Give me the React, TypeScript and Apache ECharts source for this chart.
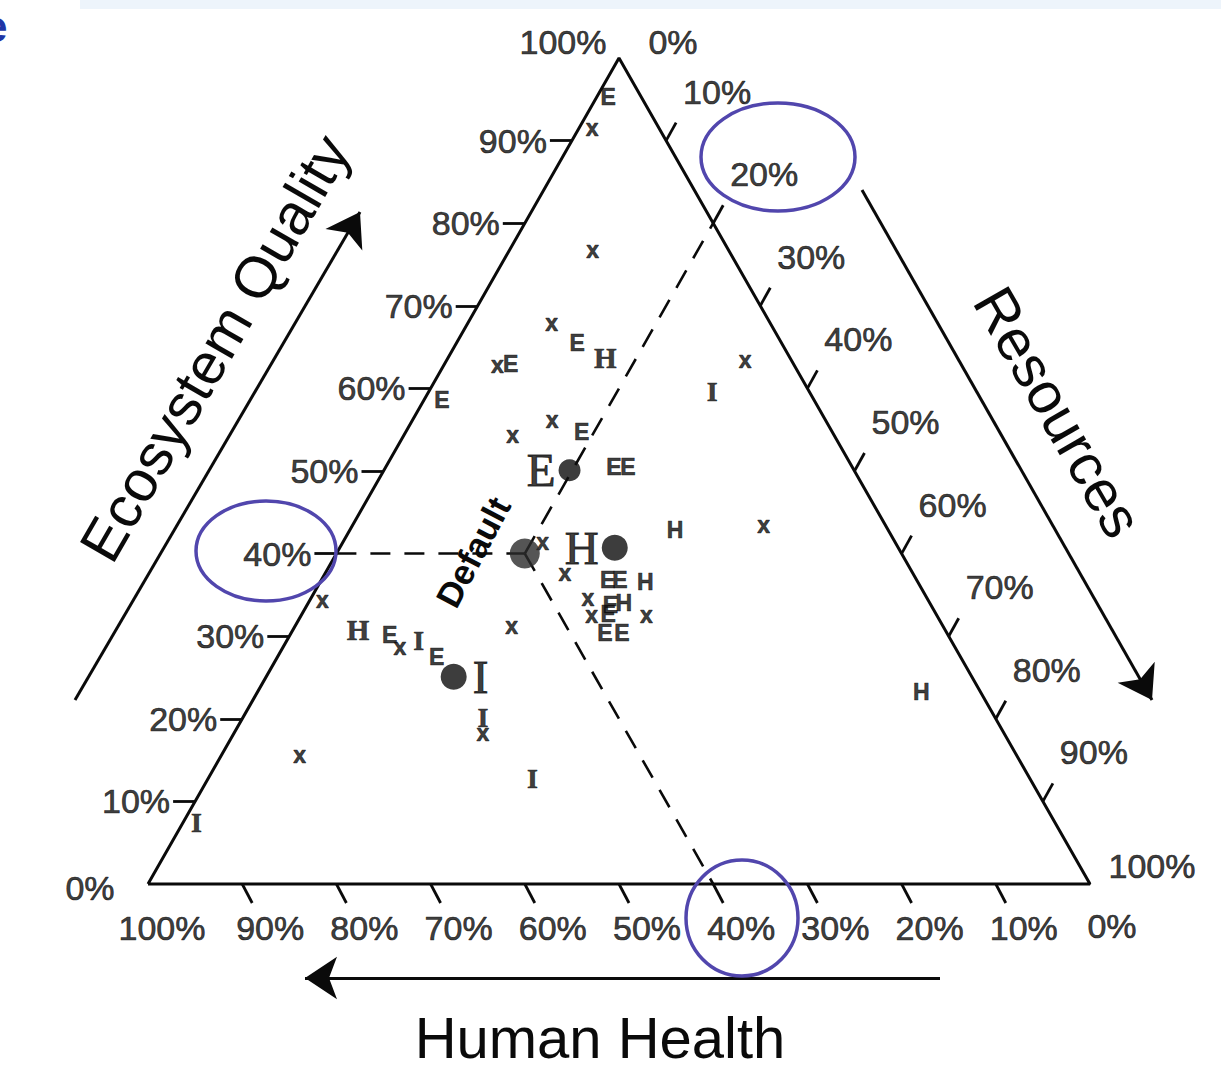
import React, { useEffect, useRef } from "react";
import * as echarts from "echarts";

// ---------- canvas / triangle frame ----------
const W = 1221;
const H = 1074;
const X0 = 148; // pixel x of the bottom-left vertex
const Y0 = 884; // pixel y of the bottom edge
const PX = 942; // pixel width of the triangle base
const PY = 826; // pixel height of the triangle

// ---------- data (ternary values, %: [Ecosystem Quality, Resources]; Human Health = 100 - EQ - R) ----------
const tickValues = [10, 20, 30, 40, 50, 60, 70, 80, 90];

const xMarkers: number[][] = [
  [91.5, 1.4], [76.8, 8.8], [67.9, 8.9], [62.8, 5.7], [56.2, 14.8], [54.4, 11.5],
  [41.4, 21.2], [63.4, 31.7], [43.5, 43.6], [37.7, 25.4], [34.4, 1.3], [31.2, 23.0],
  [28.7, 12.4], [18.3, 26.4], [15.6, 8.3], [34.6, 29.4], [32.6, 30.8], [32.6, 36.6],
];
const eMarkers: number[][] = [
  [95.3, 1.2], [63.0, 7.0], [65.5, 12.8], [58.6, 1.9], [54.7, 18.7], [50.5, 24.2],
  [50.5, 25.7], [36.8, 30.4], [36.8, 31.7], [33.8, 32.2], [32.7, 32.5], [30.4, 33.3],
  [30.4, 35.1], [30.1, 10.6], [27.5, 16.9],
];
const hMarkersSans: number[][] = [[42.9, 34.5], [36.6, 34.5], [34.0, 33.5], [23.2, 70.5]];
const hMarkersSerif: number[][] = [[63.7, 16.7], [30.8, 6.9]];
const iMarkers: number[][] = [[59.6, 30.1], [29.5, 14.0], [20.1, 25.5], [12.8, 34.4], [7.5, 1.4]];

const medianNames = ["E", "H", "I"];
const medianEQ = [50.1, 40.7, 25.1];
const medianR = [19.7, 29.2, 19.9];
const medianSize = [22, 26, 26];
const defaultPoint = [40, 20]; // EQ 40%, R 20%, HH 40%

// ---------- helpers ----------
const toXY = (eq: number, r: number) => [eq / 200 + r / 100, eq / 100];
const leftPt = (v: number) => toXY(v, 0);
const rightPt = (v: number) => toXY(100 - v, v);
const bottomPt = (v: number) => toXY(0, 100 - v); // v = Human Health %
const off = (p: number[], dxPx: number, dyPx: number) => [p[0] + dxPx / PX, p[1] - dyPx / PY];

const INK = "#0a0a0a";
const SANS = "'Liberation Sans', Arial, Helvetica, sans-serif";
const SERIF = "'Liberation Serif', 'Times New Roman', serif";
const BLUE = "#5146ad";

function buildOption() {
  const tickFont = {
    fontFamily: SANS,
    fontSize: 34,
    color: INK,
    textBorderColor: INK,
    textBorderWidth: 0.7,
  };

  const tickSegs: any[] = [];
  tickValues.forEach((v) => {
    const l = leftPt(v);
    tickSegs.push({ coords: [l, off(l, -22, 0)] });
    const r = rightPt(v);
    tickSegs.push({ coords: [r, off(r, 10, -18)] });
    const b = bottomPt(v);
    tickSegs.push({ coords: [b, off(b, 10, 19)] });
  });

  const dp = toXY(defaultPoint[0], defaultPoint[1]);
  const dashed = [
    { coords: [leftPt(defaultPoint[0]), dp] },
    { coords: [dp, bottomPt(100 - defaultPoint[0] - defaultPoint[1])] },
    { coords: [dp, rightPt(defaultPoint[1])] },
  ];

  const arrows = [
    { coords: [[(75 - X0) / PX, (Y0 - 700) / PY], [(360 - X0) / PX, (Y0 - 212) / PY]] },
    { coords: [[(862 - X0) / PX, (Y0 - 190) / PY], [(1152 - X0) / PX, (Y0 - 700) / PY]] },
    { coords: [[(940 - X0) / PX, (Y0 - 978) / PY], [(305 - X0) / PX, (Y0 - 978) / PY]] },
  ];

  const markerSeries = (pts: number[][], text: string, family: string, size: number) => ({
    type: "scatter",
    symbolSize: 0,
    silent: true,
    z: 5,
    data: pts.map((p) => toXY(p[0], p[1])),
    label: {
      show: true,
      position: "inside",
      formatter: () => text,
      fontFamily: family,
      fontWeight: "bold",
      fontSize: size,
      color: INK,
      textBorderColor: INK,
      textBorderWidth: 0.6,
    },
  });

  const corners = [
    { value: toXY(100, 0), label: { formatter: "100%", offset: [-56, -16] } },
    { value: toXY(100, 0), label: { formatter: "0%", offset: [54, -16] } },
    { value: toXY(0, 0), label: { formatter: "0%", offset: [-58, 4] } },
    { value: toXY(0, 0), label: { formatter: "100%", offset: [14, 44] } },
    { value: toXY(0, 100), label: { formatter: "100%", offset: [62, -18] } },
    { value: toXY(0, 100), label: { formatter: "0%", offset: [22, 42] } },
  ];

  return {
    animation: false,
    backgroundColor: "#ffffff",
    grid: { left: 0, right: 0, top: 0, bottom: 0, containLabel: false },
    xAxis: { type: "value", min: -X0 / PX, max: (W - X0) / PX, show: false },
    yAxis: { type: "value", min: -(H - Y0) / PY, max: Y0 / PY, show: false },
    graphic: [
      { type: "rect", z: 0, shape: { x: 80, y: 0, width: W - 80, height: 9 }, style: { fill: "#edf4fb" } },
      {
        type: "text", z: 50, x: -17, y: 26,
        style: { text: "e", font: `bold 44px ${SANS}`, fill: "#2036a6", align: "left", verticalAlign: "middle" },
      },
      {
        type: "text", z: 50, x: 215, y: 348, rotation: (60 * Math.PI) / 180,
        style: { text: "Ecosystem Quality", font: `58px ${SANS}`, fill: INK, align: "center", verticalAlign: "middle" },
      },
      {
        type: "text", z: 50, x: 1058, y: 412, rotation: (-60 * Math.PI) / 180,
        style: { text: "Resources", font: `58px ${SANS}`, fill: INK, align: "center", verticalAlign: "middle" },
      },
      {
        type: "text", z: 50, x: 600, y: 1037,
        style: { text: "Human Health", font: `58px ${SANS}`, fill: INK, align: "center", verticalAlign: "middle" },
      },
      {
        type: "text", z: 50, x: 473, y: 552, rotation: (62 * Math.PI) / 180,
        style: { text: "Default", font: `bold 35px ${SANS}`, fill: INK, align: "center", verticalAlign: "middle" },
      },
      { type: "ellipse", z: 100, shape: { cx: 266, cy: 551, rx: 70, ry: 50 }, style: { fill: "none", stroke: BLUE, lineWidth: 3.5 } },
      { type: "ellipse", z: 100, shape: { cx: 778, cy: 157, rx: 77, ry: 54 }, style: { fill: "none", stroke: BLUE, lineWidth: 3.5 } },
      { type: "ellipse", z: 100, shape: { cx: 742, cy: 918, rx: 56, ry: 58 }, style: { fill: "none", stroke: BLUE, lineWidth: 3.5 } },
    ],
    series: [
      {
        type: "line",
        silent: true,
        symbol: "none",
        data: [toXY(0, 0), toXY(0, 100), toXY(100, 0), toXY(0, 0)],
        lineStyle: { color: INK, width: 3 },
        z: 3,
      },
      {
        type: "lines",
        coordinateSystem: "cartesian2d",
        silent: true,
        data: tickSegs,
        lineStyle: { color: INK, width: 2.8, opacity: 1 },
        z: 3,
      },
      {
        type: "lines",
        coordinateSystem: "cartesian2d",
        silent: true,
        data: dashed,
        lineStyle: { color: INK, width: 2.6, opacity: 1, type: [20, 14] },
        z: 3,
      },
      {
        type: "lines",
        coordinateSystem: "cartesian2d",
        silent: true,
        symbol: ["none", "arrow"],
        symbolSize: 32,
        data: arrows,
        lineStyle: { color: INK, width: 3, opacity: 1 },
        itemStyle: { color: INK },
        z: 3,
      },
      {
        type: "scatter",
        symbolSize: 0,
        silent: true,
        data: tickValues.map((v) => [...leftPt(v), v]),
        label: { show: true, position: "left", distance: 25, formatter: (p: any) => p.value[2] + "%", ...tickFont },
      },
      {
        type: "scatter",
        symbolSize: 0,
        silent: true,
        data: tickValues.map((v) => [...rightPt(v), v]),
        label: { show: true, position: "inside", offset: [51, -49], formatter: (p: any) => p.value[2] + "%", ...tickFont },
      },
      {
        type: "scatter",
        symbolSize: 0,
        silent: true,
        data: tickValues.map((v) => [...bottomPt(v), v]),
        label: { show: true, position: "inside", offset: [28, 44], formatter: (p: any) => p.value[2] + "%", ...tickFont },
      },
      {
        type: "scatter",
        symbolSize: 0,
        silent: true,
        data: corners,
        label: { show: true, position: "inside", ...tickFont },
      },
      markerSeries(xMarkers, "x", SANS, 23),
      markerSeries(eMarkers, "E", SANS, 23),
      markerSeries(hMarkersSans, "H", SANS, 23),
      markerSeries(hMarkersSerif, "H", SERIF, 29),
      markerSeries(iMarkers, "I", SERIF, 28),
      {
        type: "scatter",
        silent: true,
        z: 6,
        symbol: "circle",
        data: medianNames.map((n, i) => ({
          value: toXY(medianEQ[i], medianR[i]),
          symbolSize: medianSize[i],
          label: {
            show: true,
            formatter: n,
            position: n === "I" ? "right" : "left",
            distance: n === "I" ? 6 : 3,
            fontFamily: SERIF,
            fontSize: 47,
            color: INK,
            textBorderColor: INK,
            textBorderWidth: 1,
          },
        })),
        itemStyle: { color: "#0d0d0d" },
      },
      {
        type: "scatter",
        silent: true,
        z: 6,
        symbol: "circle",
        symbolSize: 30,
        data: [dp],
        itemStyle: { color: "#2b2b2b" },
      },
    ],
  };
}

export default function App() {
  const ref = useRef<HTMLDivElement>(null);
  useEffect(() => {
    if (!ref.current) return;
    const chart = echarts.init(ref.current, null, { renderer: "svg" });
    chart.setOption(buildOption() as any);
    return () => chart.dispose();
  }, []);
  return (
    <div
      ref={ref}
      style={{ position: "absolute", left: 0, top: 0, width: W, height: H, background: "#ffffff" }}
    />
  );
}
